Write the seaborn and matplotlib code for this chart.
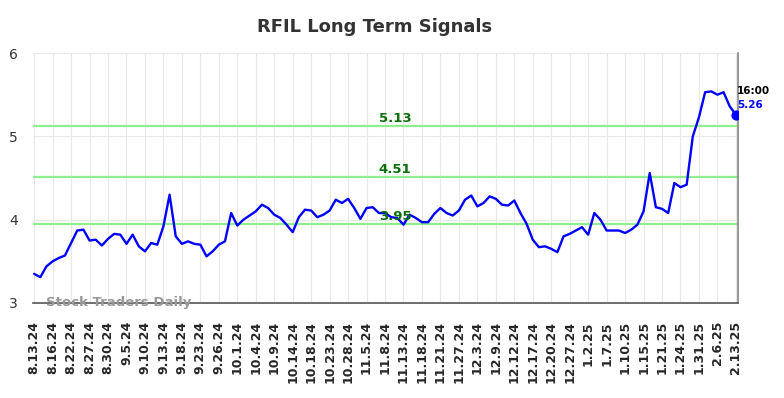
"""
RFIL long term signals chart
"""

import numpy as np
import pandas as pd
import matplotlib
matplotlib.use("Agg")
import matplotlib.pyplot as plt
import seaborn as sns

# data
tick_labels = [
    "8.13.24", "8.16.24", "8.22.24", "8.27.24", "8.30.24", "9.5.24", "9.10.24",
    "9.13.24", "9.18.24", "9.23.24", "9.26.24", "10.1.24", "10.4.24", "10.9.24",
    "10.14.24", "10.18.24", "10.23.24", "10.28.24", "11.5.24", "11.8.24",
    "11.13.24", "11.18.24", "11.21.24", "11.27.24", "12.3.24", "12.9.24",
    "12.12.24", "12.17.24", "12.20.24", "12.27.24", "1.2.25", "1.7.25",
    "1.10.25", "1.15.25", "1.21.25", "1.24.25", "1.31.25", "2.6.25", "2.13.25",
]

prices = [
    3.35, 3.31, 3.44, 3.50, 3.54, 3.57, 3.72, 3.87, 3.88, 3.75,
    3.76, 3.69, 3.77, 3.83, 3.82, 3.71, 3.82, 3.68, 3.62, 3.72,
    3.70, 3.92, 4.30, 3.80, 3.71, 3.74, 3.71, 3.70, 3.56, 3.62,
    3.70, 3.74, 4.08, 3.93, 4.00, 4.05, 4.10, 4.18, 4.14, 4.06,
    4.02, 3.94, 3.85, 4.03, 4.12, 4.11, 4.03, 4.06, 4.11, 4.24,
    4.20, 4.25, 4.14, 4.01, 4.14, 4.15, 4.08, 4.08, 4.03, 4.02,
    3.94, 4.06, 4.02, 3.97, 3.97, 4.07, 4.14, 4.08, 4.05, 4.11,
    4.24, 4.29, 4.16, 4.20, 4.28, 4.25, 4.18, 4.17, 4.23, 4.08,
    3.95, 3.76, 3.67, 3.68, 3.65, 3.61, 3.80, 3.83, 3.87, 3.91,
    3.82, 4.08, 4.00, 3.87, 3.87, 3.87, 3.84, 3.88, 3.94, 4.10,
    4.56, 4.15, 4.13, 4.08, 4.44, 4.39, 4.42, 5.00, 5.23, 5.53,
    5.54, 5.50, 5.53, 5.36, 5.26,
]

signal_levels = [5.13, 4.51, 3.95]
last_time = "16:00"

LINE_BLUE = "#0000FF"
SIGNAL_GREEN = "#90EE90"
LABEL_GREEN = "#0A6E0A"

df = pd.DataFrame({"idx": np.arange(len(prices)), "price": prices})
tick_pos = np.arange(0, len(prices), 3)

sns.set_style("whitegrid", {"grid.color": "#e8e8e8"})
plt.rcParams["font.family"] = ["DejaVu Sans"]

fig = plt.figure(figsize=(7.84, 3.98), dpi=100)
ax = fig.add_axes([0.042, 0.2387, 0.899, 0.628])

for lvl in signal_levels:
    ax.axhline(lvl, color=SIGNAL_GREEN, lw=1.6, zorder=2)
    ax.text(58.6, lvl + 0.01, f"{lvl:.2f}", color=LABEL_GREEN, fontsize=9.5,
            fontweight="bold", ha="center", va="bottom", zorder=4)

sns.lineplot(data=df, x="idx", y="price", color=LINE_BLUE, lw=1.7, ax=ax, zorder=3)
ax.scatter(df["idx"].iloc[-1], df["price"].iloc[-1], s=40, color=LINE_BLUE, zorder=5)
ax.text(df["idx"].iloc[-1] + 0.2, df["price"].iloc[-1] + 0.22, last_time,
        fontsize=7.5, fontweight="bold", color="black", ha="left", va="bottom")
ax.text(df["idx"].iloc[-1] + 0.2, df["price"].iloc[-1] + 0.06, f"{prices[-1]:.2f}",
        fontsize=7.5, fontweight="bold", color=LINE_BLUE, ha="left", va="bottom")

ax.set_xlim(-0.2, len(prices) - 1 + 0.3)
ax.set_ylim(3, 6)
ax.set_yticks([3, 4, 5, 6])
ax.set_xticks(tick_pos)
ax.set_xticklabels(tick_labels, rotation=90, fontsize=9, fontweight="bold")
ax.tick_params(axis="y", labelsize=10, labelcolor="#333333", length=0, pad=11)
ax.tick_params(axis="x", length=0, pad=13)
ax.set_xlabel("")
ax.set_ylabel("")

for side in ["top", "left"]:
    ax.spines[side].set_visible(False)
ax.spines["bottom"].set_color("#555555")
ax.spines["right"].set_color("#888888")
ax.spines["bottom"].set_linewidth(1.2)
ax.spines["right"].set_linewidth(1.2)

ax.text(1.95, 3.0, "Stock Traders Daily", fontsize=9.5, fontweight="bold",
        color="#999999", ha="left", va="center", zorder=6)

fig.text(0.478, 0.932, "RFIL Long Term Signals", fontsize=13, fontweight="bold",
         color="#333333", ha="center", va="center")

fig.savefig("out.png", dpi=100)
